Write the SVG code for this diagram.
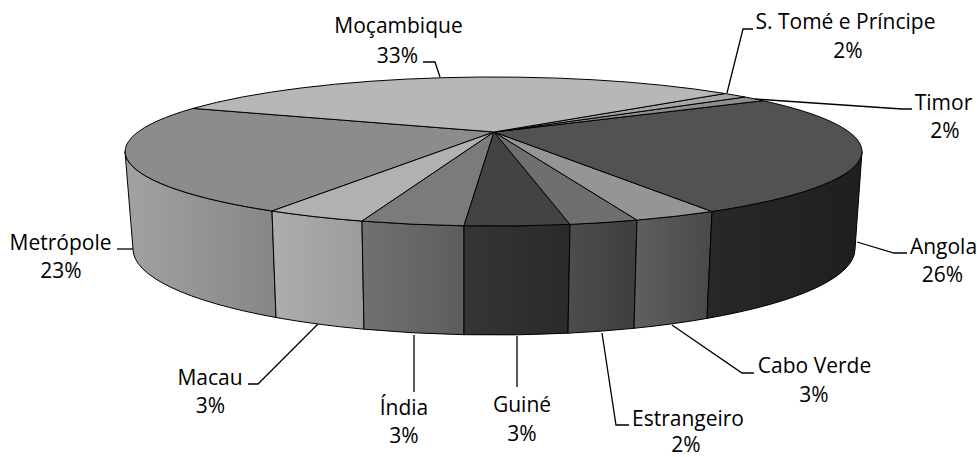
<svg xmlns="http://www.w3.org/2000/svg" width="977" height="457" viewBox="0 0 977 457">
<style>
.face{stroke:#000;stroke-width:1;stroke-linejoin:round}
.lbl{font-family:"Open Sans","Noto Sans",sans-serif;font-size:21px;fill:#000;text-anchor:middle}
.lead{fill:none;stroke:#000;stroke-width:1.3}
</style>
<defs>
<linearGradient id="gMetr" x1="0" x2="1" y1="0" y2="0"><stop offset="0" stop-color="#a2a2a2"/><stop offset="1" stop-color="#868686"/></linearGradient>
<linearGradient id="gMacau" x1="0" x2="1" y1="0" y2="0"><stop offset="0" stop-color="#adadad"/><stop offset="1" stop-color="#9c9c9c"/></linearGradient>
<linearGradient id="gIndia" x1="0" x2="1" y1="0" y2="0"><stop offset="0" stop-color="#717171"/><stop offset="1" stop-color="#5d5d5d"/></linearGradient>
<linearGradient id="gGuine" x1="0" x2="1" y1="0" y2="0"><stop offset="0" stop-color="#353535"/><stop offset="1" stop-color="#2a2a2a"/></linearGradient>
<linearGradient id="gEstr" x1="0" x2="1" y1="0" y2="0"><stop offset="0" stop-color="#4d4d4d"/><stop offset="1" stop-color="#3e3e3e"/></linearGradient>
<linearGradient id="gCV" x1="0" x2="1" y1="0" y2="0"><stop offset="0" stop-color="#606060"/><stop offset="1" stop-color="#494949"/></linearGradient>
<linearGradient id="gAng" x1="0" x2="1" y1="0" y2="0"><stop offset="0" stop-color="#282828"/><stop offset="1" stop-color="#1f1f1f"/></linearGradient>
</defs>

<g id="slice-metropole">
<path class="face" fill="url(#gMetr)" d="M125,151.5 A368.5,74.5 0 0 0 272,211 L276,317.5 A361,86 0 0 1 133,249 Z"/>
<path class="face" fill="#8c8c8c" d="M494,132 L272,211 A368.5,74.5 0 0 1 193,108.4 Z"/>
<text class="lbl" x="60.5" y="250">Metrópole</text>
<text class="lbl" x="61" y="278">23%</text>
</g>
<g id="slice-macau">
<path class="face" fill="url(#gMacau)" d="M272,211 A368.5,74.5 0 0 0 362,221.1 L364,329.2 A361,86 0 0 1 276,317.5 Z"/>
<path class="face" fill="#b1b1b1" d="M494,132 L362,221.1 A368.5,74.5 0 0 1 272,211 Z"/>
<text class="lbl" x="210" y="385">Macau</text>
<text class="lbl" x="210.5" y="413">3%</text>
</g>
<g id="slice-india">
<path class="face" fill="url(#gIndia)" d="M362,221.1 A368.5,74.5 0 0 0 464,225.8 L464,334.7 A361,86 0 0 1 364,329.2 Z"/>
<path class="face" fill="#7b7b7b" d="M494,132 L464,225.8 A368.5,74.5 0 0 1 362,221.1 Z"/>
<text class="lbl" x="404" y="415">Índia</text>
<text class="lbl" x="404" y="443">3%</text>
</g>
<g id="slice-guine">
<path class="face" fill="url(#gGuine)" d="M464,225.8 A368.5,74.5 0 0 0 570,224.4 L568,333.2 A361,86 0 0 1 464,334.7 Z"/>
<path class="face" fill="#434343" d="M494,132 L570,224.4 A368.5,74.5 0 0 1 464,225.8 Z"/>
<text class="lbl" x="522" y="412">Guiné</text>
<text class="lbl" x="522" y="441">3%</text>
</g>
<g id="slice-estrangeiro">
<path class="face" fill="url(#gEstr)" d="M570,224.4 A368.5,74.5 0 0 0 637,220.1 L634,328.3 A361,86 0 0 1 568,333.2 Z"/>
<path class="face" fill="#6f6f6f" d="M494,132 L637,220.1 A368.5,74.5 0 0 1 570,224.4 Z"/>
<text class="lbl" x="688" y="426">Estrangeiro</text>
<text class="lbl" x="686" y="452">2%</text>
</g>
<g id="slice-caboverde">
<path class="face" fill="url(#gCV)" d="M637,220.1 A368.5,74.5 0 0 0 712,211.5 L707,318.4 A361,86 0 0 1 634,328.3 Z"/>
<path class="face" fill="#959595" d="M494,132 L712,211.5 A368.5,74.5 0 0 1 637,220.1 Z"/>
<text class="lbl" x="814.5" y="373">Cabo Verde</text>
<text class="lbl" x="814" y="402">3%</text>
</g>
<g id="slice-angola">
<path class="face" fill="url(#gAng)" d="M712,211.5 A368.5,74.5 0 0 0 862,151.5 L855,249 A361,86 0 0 1 707,318.4 Z"/>
<path class="face" fill="#525252" d="M494,132 L763,100.7 A368.5,74.5 0 0 1 712,211.5 Z"/>
<text class="lbl" x="943.5" y="254">Angola</text>
<text class="lbl" x="942.5" y="282">26%</text>
</g>
<g id="slice-timor">
<path class="face" fill="#8e8e8e" d="M494,132 L745,97 A368.5,74.5 0 0 1 763,100.7 Z"/>
<text class="lbl" x="943.5" y="110">Timor</text>
<text class="lbl" x="945" y="138">2%</text>
</g>
<g id="slice-stome">
<path class="face" fill="#a6a6a6" d="M494,132 L725,93.5 A368.5,74.5 0 0 1 745,97 Z"/>
<text class="lbl" x="845.5" y="29">S. Tomé e Príncipe</text>
<text class="lbl" x="848" y="58">2%</text>
</g>
<g id="slice-mocambique">
<path class="face" fill="#b7b7b7" d="M494,132 L193,108.4 A368.5,74.5 0 0 1 725,93.5 Z"/>
<text class="lbl" x="398.5" y="33">Moçambique</text>
<text class="lbl" x="397.5" y="63">33%</text>
</g>

<g id="connectors">
<polyline class="lead" points="423,62 435,62 440,77"/>
<polyline class="lead" points="753,29 743,29 727,93"/>
<polyline class="lead" points="755,99 902,109 912,109"/>
<polyline class="lead" points="857,242 894,253 907,253"/>
<polyline class="lead" points="672,325 742,373 754,373"/>
<polyline class="lead" points="602,333 616,425 629,425"/>
<polyline class="lead" points="517,336 517,387"/>
<polyline class="lead" points="414,335 414,392"/>
<polyline class="lead" points="318,324 258,384 248,384"/>
<polyline class="lead" points="117,249 133,249"/>
</g>
</svg>
